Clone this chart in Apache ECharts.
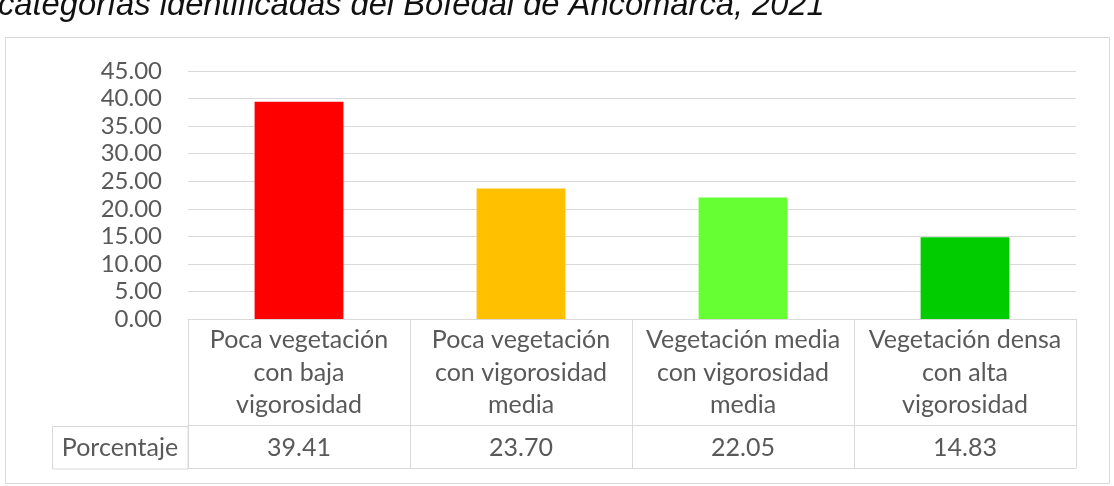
<!DOCTYPE html>
<html>
<head>
<meta charset="utf-8">
<script src="https://cdn.jsdelivr.net/npm/echarts@6/dist/echarts.min.js"></script>
<style>
html,body{margin:0;padding:0;background:#fff;}
#c{width:1114px;height:486px;}
</style>
</head>
<body>
<div id="c"></div>
<script>
const categories = [
  "Poca vegetación\ncon baja\nvigorosidad",
  "Poca vegetación\ncon vigorosidad\nmedia",
  "Vegetación media\ncon vigorosidad\nmedia",
  "Vegetación densa\ncon alta\nvigorosidad"
];
const values = [39.41, 23.70, 22.05, 14.83];
const barColors = ["#FF0000", "#FFC000", "#66FF33", "#00CC00"];
const rowLabel = "Porcentaje";
const titleText = "categorías identificadas del Bofedal de Ancomarca, 2021";
const yMin = 0, yMax = 45, yStep = 5;

const FONT = "Lato";
const TXT = "#595959";
const LINE = "#d9d9d9";

const chart = echarts.init(document.getElementById('c'), null, {renderer: 'canvas'});
chart.setOption({
  animation: false,
  backgroundColor: '#fff',
  grid: {left: 188, right: 38, top: 71, bottom: 167, containLabel: false},
  xAxis: [
    {
      type: 'category', data: categories, position: 'bottom',
      axisLine: {show: true, lineStyle: {color: LINE, width: 1}},
      axisTick: {show: true, length: 149, lineStyle: {color: LINE, width: 1}},
      axisLabel: {color: TXT, fontFamily: FONT, fontSize: 25, lineHeight: 32.5, margin: 5, interval: 0, align: 'center'}
    },
    {
      type: 'category', data: values.map(v => v.toFixed(2)), position: 'bottom', offset: 106,
      axisLine: {show: true, lineStyle: {color: LINE, width: 1}},
      axisTick: {show: false},
      axisLabel: {color: TXT, fontFamily: FONT, fontSize: 25, margin: 10, interval: 0}
    },
    {
      type: 'category', data: categories, position: 'bottom', offset: 149,
      axisLine: {show: true, lineStyle: {color: LINE, width: 1}},
      axisTick: {show: false},
      axisLabel: {show: false}
    }
  ],
  yAxis: {
    type: 'value', min: yMin, max: yMax, interval: yStep,
    axisLine: {show: false}, axisTick: {show: false},
    splitLine: {lineStyle: {color: LINE, width: 1}},
    axisLabel: {color: TXT, fontFamily: FONT, fontSize: 24, margin: 26, formatter: v => v.toFixed(2)}
  },
  series: [{
    type: 'bar', xAxisIndex: 0,
    barWidth: '40%',
    data: values.map((v, i) => ({value: v, itemStyle: {color: barColors[i]}}))
  }],
  graphic: [
    {type: 'rect', z: -10, shape: {x: 5.5, y: 37.5, width: 1104, height: 446}, style: {fill: '#fff', stroke: LINE, lineWidth: 1}},
    {type: 'rect', z: 10, shape: {x: 52.5, y: 426.5, width: 135.5, height: 42.5}, style: {fill: 'none', stroke: LINE, lineWidth: 1}},
    {type: 'text', z: 10, x: 120, y: 448, style: {text: rowLabel, fill: TXT, font: '25px ' + FONT, textAlign: 'center', textVerticalAlign: 'middle'}},
    {type: 'text', z: 10, x: -2, y: 6, style: {text: titleText, fill: '#111', font: 'italic 32.7px "Liberation Sans"', textAlign: 'left', textVerticalAlign: 'middle'}}
  ]
});
</script>
</body>
</html>
